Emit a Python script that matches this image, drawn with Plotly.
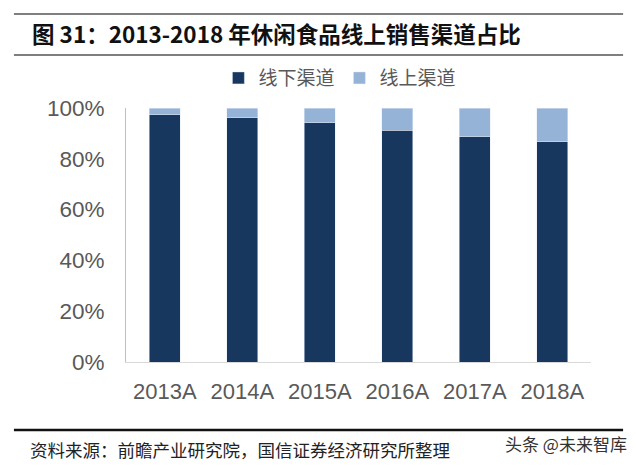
import plotly.graph_objects as go

# %% data
years = ['2013A', '2014A', '2015A', '2016A', '2017A', '2018A']
offline = [97.3, 96.2, 94.2, 91.2, 88.7, 86.7]
online = [2.7, 3.8, 5.8, 8.8, 11.3, 13.3]
y_ticks = [0, 20, 40, 60, 80, 100]

# %% figure
fig = go.Figure()
fig.add_trace(go.Bar(x=years, y=offline, name='线下渠道', marker_color='#17375e'))
fig.add_trace(go.Bar(x=years, y=online, name='线上渠道', marker_color='#95b3d7'))

# page body keeps its default 8px margin, so the margins are shifted by 8px
fig.update_layout(
    barmode='stack',
    bargap=0.6,
    width=636, height=466,
    margin=dict(l=118, r=53, t=100, b=112),
    plot_bgcolor='white', paper_bgcolor='white',
    font=dict(family='Liberation Sans, Arial', color='#595959'),
    showlegend=True,
    legend=dict(orientation='h', x=0.46, xanchor='center', y=1.118, yanchor='middle',
                font=dict(family='Noto Sans CJK SC', size=19, color='#595959'),
                traceorder='normal', itemwidth=30),
)
fig.update_yaxes(range=[0, 100], tickvals=y_ticks, ticktext=[f'{v}%' for v in y_ticks],
                 showgrid=False, showline=True, linecolor='#bfbfbf', linewidth=1,
                 ticks='', tickfont=dict(size=22.5), ticklabelstandoff=16)
fig.update_xaxes(showline=True, linecolor='#d9d9d9', linewidth=1, ticks='',
                 tickfont=dict(size=22), ticklabelstandoff=10)

# title / source lines
for y0, col, w in [(1.37, '#555555', 1.5), (1.209, '#555555', 1.5), (-0.268, '#111111', 2.5)]:
    fig.add_shape(type='line', xref='paper', yref='paper', x0=-0.241, x1=1.069, y0=y0, y1=y0,
                  line=dict(color=col, width=w))
fig.add_annotation(xref='paper', yref='paper', x=-0.206, y=1.297, xanchor='left', yanchor='middle',
                   text='<b>图 31：2013-2018 年休闲食品线上销售渠道占比</b>', showarrow=False,
                   font=dict(family='Noto Sans CJK SC', size=22.5, color='#111111'))
fig.add_annotation(xref='paper', yref='paper', x=-0.211, y=-0.346, xanchor='left', yanchor='middle',
                   text='资料来源：前瞻产业研究院，国信证券经济研究所整理', showarrow=False,
                   font=dict(family='Noto Sans CJK SC', size=17.5, color='#222222'))
fig.add_annotation(xref='paper', yref='paper', x=1.082, y=-0.319, xanchor='right', yanchor='middle',
                   text='头条 @未来智库', showarrow=False,
                   font=dict(family='Noto Sans CJK SC', size=17, color='#333333'))

fig.write_html('out.html', config={'displayModeBar': False})
